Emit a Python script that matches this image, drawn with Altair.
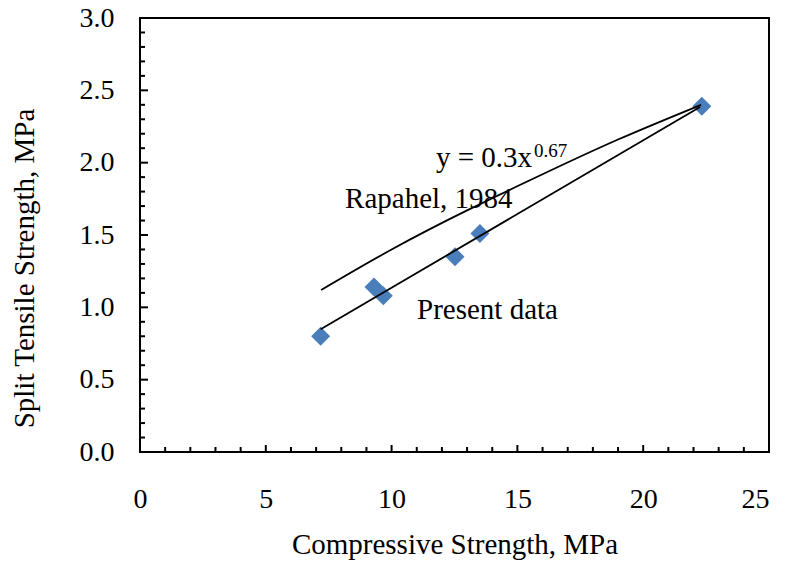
import altair as alt
import pandas as pd

comp_strength = [7.18, 9.30, 9.67, 12.52, 13.51, 22.33]
split_strength = [0.80, 1.14, 1.08, 1.35, 1.51, 2.39]

# Present data trend line (read endpoints)
fit_x = [7.18, 22.26]
fit_y = [0.848, 2.385]

# Raphael, 1984 curve
raph_x = [7.2, 10, 13, 16, 19, 22.3]
raph_y = [1.12, 1.40, 1.67, 1.92, 2.16, 2.40]

# Axis ticks
x_major = [0, 5, 10, 15, 20, 25]
x_minor = [1, 2, 3, 4, 6, 7, 8, 9, 11, 12, 13, 14, 16, 17, 18, 19, 21, 22, 23, 24]
y_major = [0.0, 0.5, 1.0, 1.5, 2.0, 2.5, 3.0]
y_minor = [0.1, 0.2, 0.3, 0.4, 0.6, 0.7, 0.8, 0.9, 1.1, 1.2, 1.3, 1.4,
           1.6, 1.7, 1.8, 1.9, 2.1, 2.2, 2.3, 2.4, 2.6, 2.7, 2.8, 2.9]

# Annotations
ann_text = ["y = 0.3x", "0.67", "Rapahel, 1984", "Present data"]
ann_x = [11.76, 15.66, 8.15, 11.01]
ann_y = [1.97, 2.04, 1.687, 0.919]
ann_size = [29, 19, 29, 29]

FONT = "Liberation Serif"
XT = "Compressive Strength, MPa"
YT = "Split Tensile Strength, MPa"

xs = alt.Scale(domain=[0, 25], nice=False)
ys = alt.Scale(domain=[0, 3], nice=False)

xaxis = alt.Axis(values=x_major, format="d", tickSize=0, domain=False, grid=False,
                 labelFont=FONT, labelFontSize=28, labelColor="black", labelPadding=33,
                 labelFlush=False, labelOverlap=False,
                 labelAlign={"condition": {"test": "datum.value == 25", "value": "right"},
                             "value": "center"},
                 titleFont=FONT, titleFontSize=29, titleFontWeight="normal", titleColor="black",
                 titleY=101, titleBaseline="alphabetic")
yaxis = alt.Axis(values=y_major, format=".1f", tickSize=0, domain=False, grid=False,
                 labelFont=FONT, labelFontSize=28, labelColor="black", labelPadding=26,
                 labelFlush=False, labelOverlap=False,
                 titleFont=FONT, titleFontSize=29, titleFontWeight="normal", titleColor="black",
                 titleX=-107, titleY=250, titleBaseline="alphabetic", titleAngle=270)

pts = pd.DataFrame({"x": comp_strength, "y": split_strength})
fit = pd.DataFrame({"x": fit_x, "y": fit_y})
raph = pd.DataFrame({"x": raph_x, "y": raph_y})
ann = pd.DataFrame({"t": ann_text, "x": ann_x, "y": ann_y, "fs": ann_size})

points = alt.Chart(pts).mark_point(shape="diamond", filled=True, size=360,
                                   color="#4A7EBB", opacity=1).encode(
    x=alt.X("x:Q", scale=xs, axis=xaxis, title=XT),
    y=alt.Y("y:Q", scale=ys, axis=yaxis, title=YT),
)

fit_line = alt.Chart(fit).mark_line(color="black", strokeWidth=1.8).encode(
    x=alt.X("x:Q", scale=xs, title=XT), y=alt.Y("y:Q", scale=ys, title=YT))

raph_line = alt.Chart(raph).mark_line(color="black", strokeWidth=1.8,
                                      interpolate="natural").encode(
    x=alt.X("x:Q", scale=xs, title=XT), y=alt.Y("y:Q", scale=ys, title=YT))

texts = alt.Chart(ann).mark_text(font=FONT, align="left", baseline="alphabetic",
                                 color="black").encode(
    x=alt.X("x:Q", scale=xs, title=XT), y=alt.Y("y:Q", scale=ys, title=YT),
    text="t:N", size=alt.Size("fs:Q", scale=None, legend=None))

def yticks(vals, length):
    return alt.Chart(pd.DataFrame({"y": vals})).mark_rule(color="black", strokeWidth=2).encode(
        y=alt.Y("y:Q", scale=ys, title=YT), x=alt.value(0), x2=alt.value(length))

def xticks(vals, length):
    return alt.Chart(pd.DataFrame({"x": vals})).mark_rule(color="black", strokeWidth=2).encode(
        x=alt.X("x:Q", scale=xs, title=XT), y=alt.value(434), y2=alt.value(434 - length))

chart = alt.layer(
    yticks(y_major, 8), yticks(y_minor, 5), xticks(x_major, 7), xticks(x_minor, 5),
    points, raph_line, fit_line, texts
).properties(
    width=629, height=434,
    autosize=alt.AutoSizeParams(type="none"),
    padding={"left": 140, "top": 18, "right": 18, "bottom": 118},
    background="white",
).configure_view(stroke="black", strokeWidth=2)

chart.save("out.html", embed_options={"renderer": "svg", "actions": False})
